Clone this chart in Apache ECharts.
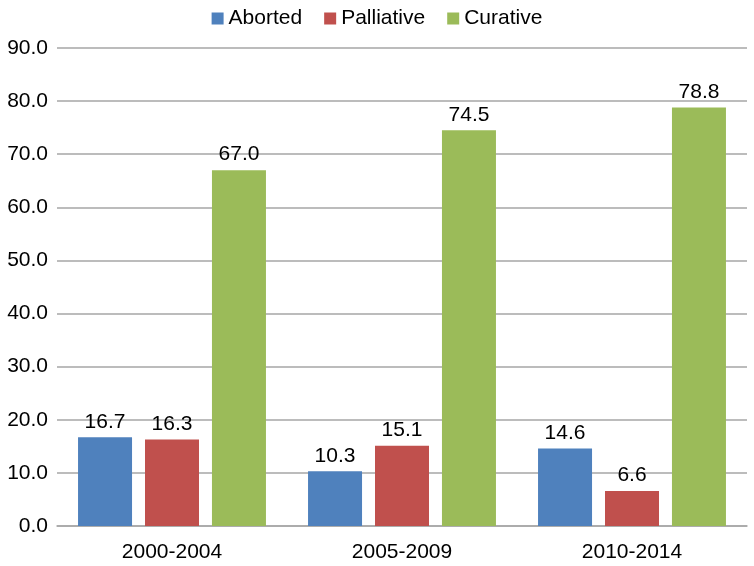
<!DOCTYPE html>
<html><head><meta charset="utf-8">
<script src="https://cdn.jsdelivr.net/npm/echarts@6/dist/echarts.min.js"></script>
<style>html,body{margin:0;padding:0;background:#fff}#c{width:754px;height:566px}</style>
</head><body><div id="c"></div>
<script>
var categories = ['2000-2004', '2005-2009', '2010-2014'];
var aborted = [16.7, 10.3, 14.6];
var palliative = [16.3, 15.1, 6.6];
var curative = [67.0, 74.5, 78.8];
var seriesNames = ['Aborted', 'Palliative', 'Curative'];
var colors = ['#4F81BD', '#C0504D', '#9BBB59'];

var font = 'Liberation Sans, Arial, sans-serif';
function mk(name, data, color) {
  return {
    name: name, type: 'bar', data: data, barWidth: 54, barGap: '24%',
    itemStyle: { color: color },
    label: { show: true, position: 'top', distance: 5, color: '#000', fontFamily: font, fontSize: 21,
      formatter: function (p) { return p.value.toFixed(1); } }
  };
}
var chart = echarts.init(document.getElementById('c'));
chart.setOption({
  animation: false,
  color: colors,
  legend: {
    top: 3, left: 'center', itemWidth: 12, itemHeight: 12, itemGap: 22,
    icon: 'rect',
    textStyle: { fontFamily: font, fontSize: 21, color: '#000' },
    data: seriesNames
  },
  grid: { left: 57, right: 7, top: 48, bottom: 40, containLabel: false },
  xAxis: {
    type: 'category', data: categories,
    axisLine: { lineStyle: { color: '#A6A6A6', width: 1.5 } },
    axisTick: { show: false },
    axisLabel: { fontFamily: font, fontSize: 21, color: '#000', margin: 16 }
  },
  yAxis: {
    type: 'value', min: 0, max: 90, interval: 10,
    axisLine: { show: false }, axisTick: { show: false },
    axisLabel: { fontFamily: font, fontSize: 21, color: '#000', margin: 9,
      formatter: function (v) { return v.toFixed(1); } },
    splitLine: { lineStyle: { color: '#A6A6A6', width: 1.5 } }
  },
  series: [mk(seriesNames[0], aborted, colors[0]), mk(seriesNames[1], palliative, colors[1]), mk(seriesNames[2], curative, colors[2])]
});
</script></body></html>
